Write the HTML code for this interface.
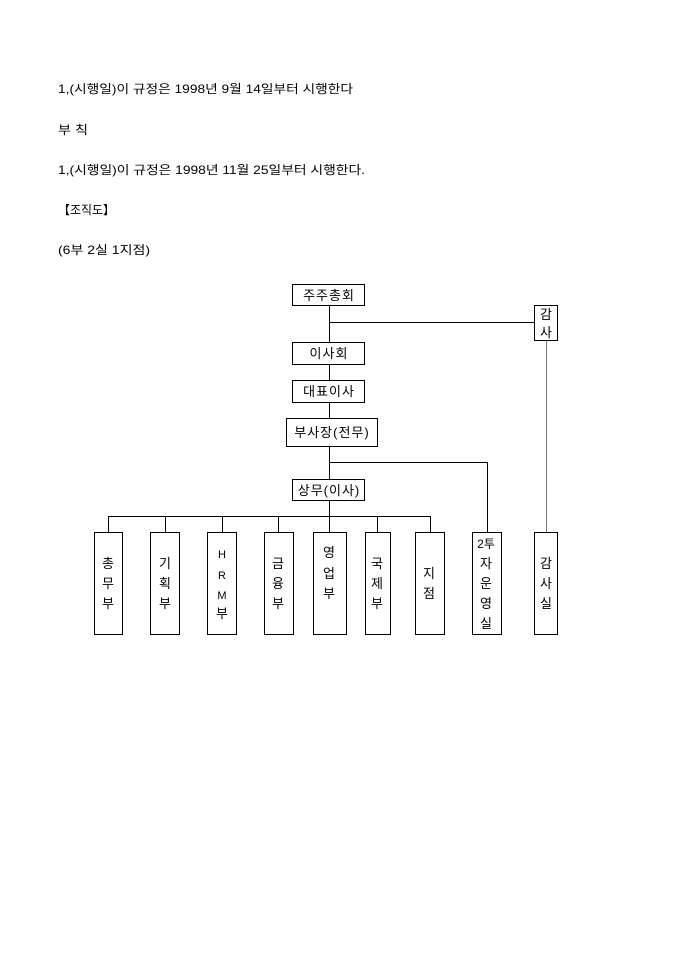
<!DOCTYPE html>
<html><head><meta charset="utf-8"><style>
html,body{margin:0;padding:0;background:#fff;}
svg{display:block;}
text{font-family:"Liberation Sans","Noto Sans CJK KR","NanumGothic",sans-serif;fill:#000;}
.t{font-size:12px;}
.b{font-size:13px;text-anchor:middle;}
rect{fill:#fff;stroke:#000;stroke-width:1;}
line,polyline{stroke:#000;stroke-width:1;fill:none;}
</style></head><body>
<svg width="680" height="962" viewBox="0 0 680 962" xmlns="http://www.w3.org/2000/svg">
<text class="t" x="58" y="93" textLength="295" lengthAdjust="spacingAndGlyphs">1,(시행일)이 규정은 1998년 9월 14일부터 시행한다</text>
<text class="t" x="58" y="134" textLength="30" lengthAdjust="spacingAndGlyphs">부 칙</text>
<text class="t" x="58" y="174" textLength="307" lengthAdjust="spacingAndGlyphs">1,(시행일)이 규정은 1998년 11월 25일부터 시행한다.</text>
<text class="t" x="58" y="214" textLength="57" lengthAdjust="spacingAndGlyphs">【조직도】</text>
<text class="t" x="58" y="254" textLength="92" lengthAdjust="spacingAndGlyphs">(6부 2실 1지점)</text>

<line x1="329.5" y1="305" x2="329.5" y2="479"/>
<line x1="329.5" y1="322.5" x2="534" y2="322.5"/>
<line x1="546.5" y1="341" x2="546.5" y2="532" style="stroke:#777"/>
<polyline points="329.5,462.5 487.5,462.5 487.5,532"/>
<line x1="329.5" y1="500" x2="329.5" y2="532"/>
<line x1="108" y1="516.5" x2="431" y2="516.5"/>
<line x1="108.5" y1="516" x2="108.5" y2="532"/>
<line x1="165.5" y1="516" x2="165.5" y2="532"/>
<line x1="222.5" y1="516" x2="222.5" y2="532"/>
<line x1="278.5" y1="516" x2="278.5" y2="532"/>
<line x1="377.5" y1="516" x2="377.5" y2="532"/>
<line x1="430.5" y1="516" x2="430.5" y2="532"/>

<rect x="292.5" y="284.5" width="72" height="21"/>
<text class="b" x="329" y="300" letter-spacing="1">주주총회</text>
<rect x="534.5" y="305.5" width="23" height="35"/>
<text class="b" x="546" y="319">감</text>
<text class="b" x="546" y="337">사</text>
<rect x="292.5" y="342.5" width="72" height="22"/>
<text class="b" x="329" y="358" letter-spacing="1">이사회</text>
<rect x="292.5" y="380.5" width="72" height="22"/>
<text class="b" x="329" y="396" letter-spacing="1">대표이사</text>
<rect x="286.5" y="418.5" width="91" height="28"/>
<text class="b" x="332" y="437" letter-spacing="1">부사장(전무)</text>
<rect x="292.5" y="479.5" width="72" height="21"/>
<text class="b" x="329" y="495" letter-spacing="1">상무(이사)</text>

<rect x="94.5" y="532.5" width="28" height="102"/>
<text class="b" x="108" y="568">총</text><text class="b" x="108" y="588">무</text><text class="b" x="108" y="608">부</text>
<rect x="150.5" y="532.5" width="29" height="102"/>
<text class="b" x="165" y="568">기</text><text class="b" x="165" y="588">획</text><text class="b" x="165" y="608">부</text>
<rect x="207.5" y="532.5" width="29" height="102"/>
<text class="b" x="222" y="558" style="font-size:11px">H</text><text class="b" x="222" y="579" style="font-size:11px">R</text><text class="b" x="222" y="599" style="font-size:11px">M</text><text class="b" x="222" y="618">부</text>
<rect x="264.5" y="532.5" width="29" height="102"/>
<text class="b" x="278" y="568">금</text><text class="b" x="278" y="588">융</text><text class="b" x="278" y="608">부</text>
<rect x="313.5" y="532.5" width="33" height="102"/>
<text class="b" x="329" y="557">영</text><text class="b" x="329" y="578">업</text><text class="b" x="329" y="598">부</text>
<rect x="365.5" y="532.5" width="25" height="102"/>
<text class="b" x="377" y="568">국</text><text class="b" x="377" y="588">제</text><text class="b" x="377" y="608">부</text>
<rect x="415.5" y="532.5" width="29" height="102"/>
<text class="b" x="429" y="578">지</text><text class="b" x="429" y="598">점</text>
<rect x="472.5" y="532.5" width="29" height="102"/>
<text class="b" x="486" y="548" style="font-size:12px">2투</text><text class="b" x="486" y="568">자</text><text class="b" x="486" y="588">운</text><text class="b" x="486" y="608">영</text><text class="b" x="486" y="628">실</text>
<rect x="534.5" y="532.5" width="23" height="102"/>
<text class="b" x="546" y="568">감</text><text class="b" x="546" y="588">사</text><text class="b" x="546" y="608">실</text>
</svg>
</body></html>
